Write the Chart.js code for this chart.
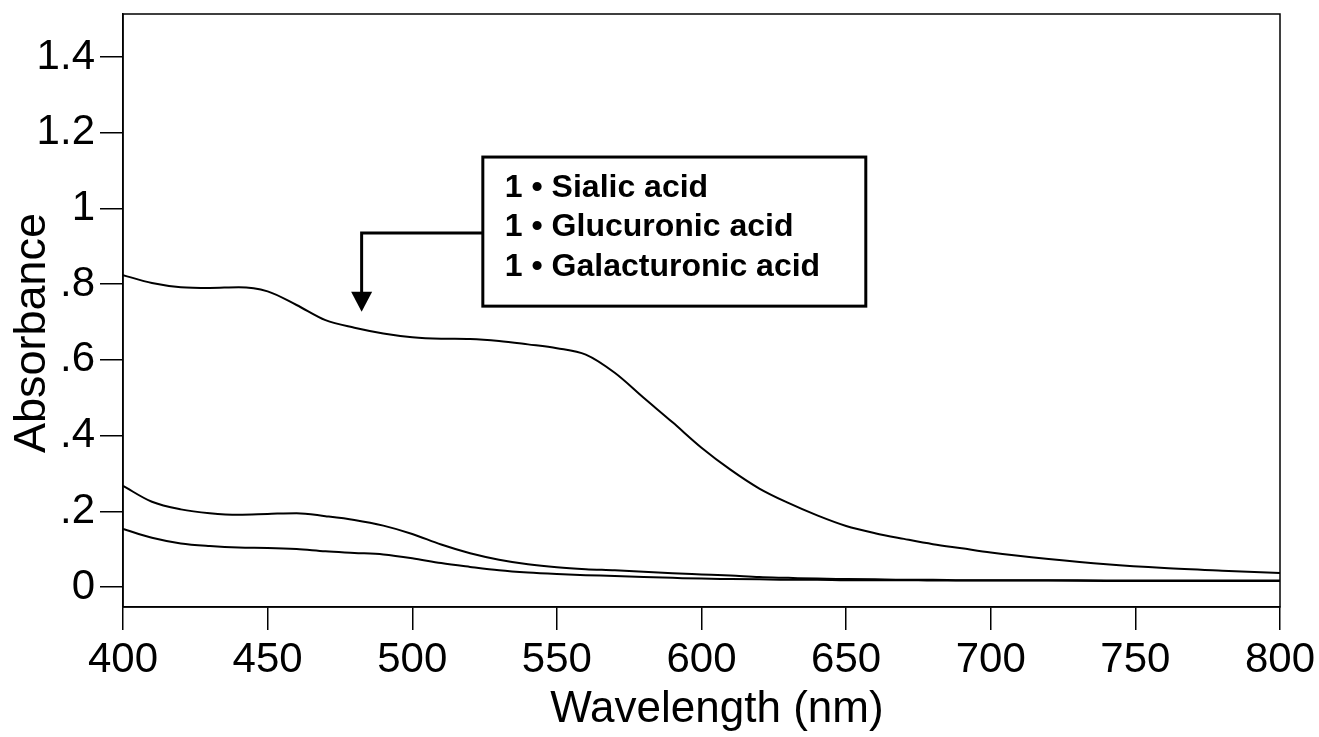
<!DOCTYPE html>
<html>
<head>
<meta charset="utf-8">
<title>Absorbance spectra</title>
<script src="https://cdn.jsdelivr.net/npm/chart.js@4/dist/chart.umd.min.js"></script>
<style>
  html, body { margin: 0; padding: 0; background: #fff; }
  canvas { display: block; }
</style>
</head>
<body>
<canvas id="chart" width="1319" height="737"></canvas>
<script>
// wavelengths (nm) where the curves were read
const wavelengths = [400, 410, 420, 430, 440, 450, 460, 470, 480, 490, 500, 510, 520, 530, 540, 550, 560, 570, 580, 590, 600, 610, 620, 630, 640, 650, 660, 670, 680, 690, 700, 720, 740, 760, 780, 800];

const sialic = [0.824, 0.803, 0.792, 0.790, 0.792, 0.781, 0.745, 0.705, 0.685, 0.670, 0.660, 0.656, 0.655, 0.650, 0.641, 0.631, 0.614, 0.566, 0.500, 0.435, 0.368, 0.310, 0.260, 0.222, 0.189, 0.161, 0.142, 0.127, 0.113, 0.102, 0.091, 0.074, 0.060, 0.050, 0.043, 0.037];
const glucuronic = [0.267, 0.225, 0.205, 0.195, 0.191, 0.193, 0.195, 0.187, 0.177, 0.162, 0.140, 0.112, 0.089, 0.072, 0.060, 0.052, 0.047, 0.044, 0.040, 0.036, 0.033, 0.030, 0.026, 0.024, 0.022, 0.021, 0.020, 0.019, 0.019, 0.018, 0.018, 0.018, 0.017, 0.017, 0.017, 0.017];
const galacturonic = [0.153, 0.130, 0.115, 0.108, 0.104, 0.103, 0.100, 0.094, 0.090, 0.086, 0.076, 0.063, 0.053, 0.044, 0.038, 0.034, 0.031, 0.029, 0.026, 0.024, 0.022, 0.021, 0.020, 0.019, 0.019, 0.018, 0.018, 0.018, 0.017, 0.017, 0.017, 0.017, 0.016, 0.016, 0.016, 0.016];

const seriesLabels = ['1 \u2022 Sialic acid', '1 \u2022 Glucuronic acid', '1 \u2022 Galacturonic acid'];

const xTicks = [400, 450, 500, 550, 600, 650, 700, 750, 800];
const yTicks = [0, 0.2, 0.4, 0.6, 0.8, 1, 1.2, 1.4];
const yTickLabels = ['0', '.2', '.4', '.6', '.8', '1', '1.2', '1.4'];

// callout box + arrow, in data units
const note = {
  box: { x0: 524.4, x1: 656.8, y0: 1.136, y1: 0.742 },
  arrow: { y: 0.935, x: 482.5, tip: 0.727 },
};

const FONT = "'Liberation Sans', Arial, sans-serif";

const toPoints = (values) => values.map((v, i) => ({ x: wavelengths[i], y: v }));

const lineSet = (label, values) => ({
  label,
  data: toPoints(values),
  borderColor: '#000',
  borderWidth: 2,
  pointRadius: 0,
  fill: false,
  cubicInterpolationMode: 'monotone',
});

const framePlugin = {
  id: 'frame',
  afterDraw(chart) {
    const { ctx, chartArea: a } = chart;
    ctx.save();
    ctx.strokeStyle = '#000';
    ctx.lineWidth = 1.5;
    ctx.strokeRect(a.left, a.top, a.right - a.left, a.bottom - a.top);
    ctx.restore();
  },
};

const notePlugin = {
  id: 'note',
  afterDraw(chart) {
    const { ctx } = chart;
    const xs = chart.scales.x;
    const ys = chart.scales.y;
    const left = xs.getPixelForValue(note.box.x0);
    const right = xs.getPixelForValue(note.box.x1);
    const top = ys.getPixelForValue(note.box.y0);
    const bottom = ys.getPixelForValue(note.box.y1);
    const ay = ys.getPixelForValue(note.arrow.y);
    const ax = xs.getPixelForValue(note.arrow.x);
    const tip = ys.getPixelForValue(note.arrow.tip);

    ctx.save();
    ctx.fillStyle = '#fff';
    ctx.fillRect(left, top, right - left, bottom - top);
    ctx.strokeStyle = '#000';
    ctx.lineWidth = 3;
    ctx.strokeRect(left, top, right - left, bottom - top);

    // arrow
    ctx.beginPath();
    ctx.moveTo(left, ay);
    ctx.lineTo(ax, ay);
    ctx.lineTo(ax, tip - 18);
    ctx.stroke();
    ctx.beginPath();
    ctx.moveTo(ax - 10.5, tip - 20);
    ctx.lineTo(ax + 10.5, tip - 20);
    ctx.lineTo(ax, tip);
    ctx.closePath();
    ctx.fillStyle = '#000';
    ctx.fill();

    ctx.font = 'bold 32px ' + FONT;
    ctx.textBaseline = 'middle';
    ctx.textAlign = 'left';
    seriesLabels.forEach((label, i) => {
      ctx.fillText(label, left + 22, top + 31 + i * 39.5);
    });
    ctx.restore();
  },
};

new Chart(document.getElementById('chart'), {
  type: 'line',
  data: {
    datasets: [
      lineSet('Sialic acid', sialic),
      lineSet('Glucuronic acid', glucuronic),
      lineSet('Galacturonic acid', galacturonic),
    ],
  },
  options: {
    responsive: false,
    animation: false,
    layout: { padding: { top: 14, right: 39, left: 0, bottom: 0 } },
    plugins: {
      legend: { display: false },
      tooltip: { enabled: false },
    },
    scales: {
      x: {
        type: 'linear',
        min: 400,
        max: 800,
        afterBuildTicks: (scale) => { scale.ticks = xTicks.map((v) => ({ value: v })); },
        afterFit: (scale) => {
          scale.height = 130;
          scale.paddingLeft = 0;
          scale.paddingRight = 0;
        },
        grid: { drawOnChartArea: false, color: '#000', lineWidth: 1.5, tickLength: 23 },
        border: { display: true, color: '#000', width: 1.5 },
        ticks: {
          color: '#000',
          padding: 5,
          maxRotation: 0,
          autoSkip: false,
          font: { family: FONT, size: 42 },
          callback: (v) => String(v),
        },
        title: {
          display: true,
          // leading space nudges the centred title right, as in the source figure
          text: '\u2002\u2009Wavelength (nm)',
          color: '#000',
          padding: { top: 0, bottom: 1 },
          font: { family: FONT, size: 44 },
        },
      },
      y: {
        min: -0.053,
        max: 1.514,
        afterBuildTicks: (scale) => { scale.ticks = yTicks.map((v) => ({ value: v })); },
        afterFit: (scale) => {
          scale.width = 123;
          scale.paddingTop = 0;
          scale.paddingBottom = 0;
        },
        grid: { drawOnChartArea: false, color: '#000', lineWidth: 1.5, tickLength: 23 },
        border: { display: true, color: '#000', width: 1.5 },
        ticks: {
          color: '#000',
          padding: 5,
          autoSkip: false,
          font: { family: FONT, size: 42 },
          callback: (v) => {
            const i = yTicks.findIndex((t) => Math.abs(t - v) < 1e-6);
            return i >= 0 ? yTickLabels[i] : '';
          },
        },
        title: {
          display: true,
          // trailing space pulls the rotated title a little lower
          text: 'Absorbance\u2002\u2002',
          color: '#000',
          padding: { top: 6, bottom: 0 },
          font: { family: FONT, size: 45 },
        },
      },
    },
  },
  plugins: [framePlugin, notePlugin],
});
</script>
</body>
</html>
